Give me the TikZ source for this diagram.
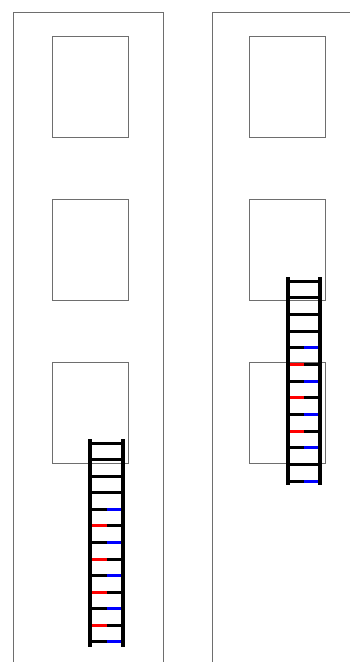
\documentclass[tikz,border=0pt]{standalone}
\usetikzlibrary{positioning,calc}
\definecolor{frame}{HTML}{6E6E6E}
\tikzset{
  room/.style={rectangle,draw=frame,line width=0.8pt,
    minimum width=76pt,minimum height=101pt,inner sep=0pt,anchor=north west},
  panel/.style={draw=frame,line width=0.9pt},
  rail/.style={draw=black,line width=3.2pt},
  rung/.style={line width=3pt}
}
\begin{document}
\begin{tikzpicture}[x=1pt,y=-1pt]
  \useasboundingbox (0,0) rectangle (350,662);
  \clip (0,0) rectangle (350,662);
  % panels
  \draw[panel] (13,662) -- (13,12) -- (163,12) -- (163,662);
  \draw[panel] (212,662) -- (212,12) -- (362,12) -- (362,662);
  % rooms
  \node[room] (roomla) at (52,36) {};
  \node[room] (roomlb) at (52,199) {};
  \node[room] (roomlc) at (52,362) {};
  \node[room] (roomra) at (249,36) {};
  \node[room] (roomrb) at (249,199) {};
  \node[room] (roomrc) at (249,362) {};
  % left ladder
  \foreach \lc/\rc [count=\k from 0] in {black/black,black/black,black/black,black/black,
      black/blue,red/black,black/blue,red/black,black/blue,red/black,black/blue,red/black,black/blue} {
    \draw[rung,\lc] (90,443+16.58*\k) -- (106.5,443+16.58*\k);
    \draw[rung,\rc] (106.5,443+16.58*\k) -- (123,443+16.58*\k);
  }
  \coordinate (lefttopa) at (90,439);
  \coordinate (leftbota) at (90,647);
  \coordinate (lefttopb) at (123,439);
  \coordinate (leftbotb) at (123,647);
  \draw[rail] (lefttopa) -- (leftbota);
  \draw[rail] (lefttopb) -- (leftbotb);
  % right ladder
  \foreach \lc/\rc [count=\k from 0] in {black/black,black/black,black/black,black/black,
      black/blue,red/black,black/blue,red/black,black/blue,red/black,black/blue,black/black,black/blue} {
    \draw[rung,\lc] (288,281+16.67*\k) -- (304,281+16.67*\k);
    \draw[rung,\rc] (304,281+16.67*\k) -- (320,281+16.67*\k);
  }
  \coordinate (righttopa) at (288,277);
  \coordinate (rightbota) at (288,485);
  \coordinate (righttopb) at (320,277);
  \coordinate (rightbotb) at (320,485);
  \draw[rail] (righttopa) -- (rightbota);
  \draw[rail] (righttopb) -- (rightbotb);
\end{tikzpicture}
\end{document}
